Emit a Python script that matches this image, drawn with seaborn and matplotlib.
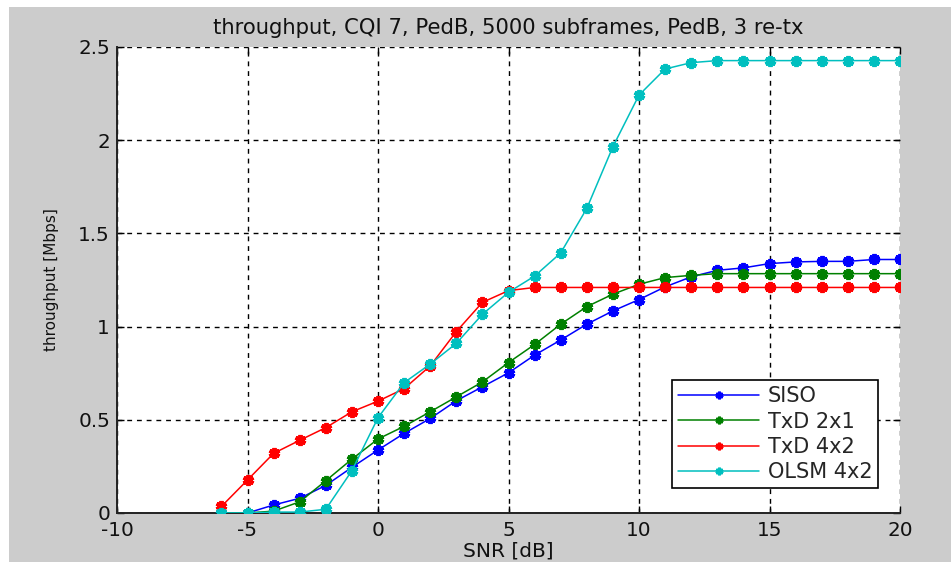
import numpy as np
import pandas as pd
import matplotlib
matplotlib.use("Agg")
import matplotlib.pyplot as plt
import seaborn as sns
from matplotlib.patches import Rectangle

sns.set_theme(style="white")
plt.rcParams["font.family"] = ["DejaVu Sans"]

snr_db = list(range(-6, 21))

siso = [0.0, 0.0, 0.043, 0.079, 0.148, 0.245, 0.338, 0.427, 0.507, 0.602,
        0.677, 0.752, 0.847, 0.928, 1.013, 1.084, 1.145, 1.213, 1.267, 1.302,
        1.315, 1.338, 1.347, 1.35, 1.35, 1.36, 1.36]
txd_2x1 = [0.0, 0.0, 0.01, 0.06, 0.173, 0.289, 0.397, 0.465, 0.543, 0.623,
           0.703, 0.807, 0.904, 1.013, 1.107, 1.174, 1.227, 1.263, 1.275, 1.284,
           1.284, 1.284, 1.284, 1.284, 1.284, 1.284, 1.284]
txd_4x2 = [0.035, 0.177, 0.32, 0.39, 0.458, 0.543, 0.60, 0.667, 0.789, 0.973,
           1.13, 1.193, 1.21, 1.21, 1.21, 1.21, 1.21, 1.21, 1.21, 1.21,
           1.21, 1.21, 1.21, 1.21, 1.21, 1.21, 1.21]
olsm_4x2 = [0.0, 0.0, 0.005, 0.005, 0.02, 0.227, 0.511, 0.699, 0.799, 0.91,
            1.066, 1.184, 1.271, 1.395, 1.634, 1.965, 2.242, 2.382, 2.416, 2.427,
            2.427, 2.427, 2.427, 2.427, 2.427, 2.427, 2.427]

series_names = ["SISO", "TxD 2x1", "TxD 4x2", "OLSM 4x2"]
series_values = [siso, txd_2x1, txd_4x2, olsm_4x2]
series_colors = ["#0000ff", "#008000", "#ff0000", "#00bfbf"]

x_ticks = [-10, -5, 0, 5, 10, 15, 20]
y_ticks = [0, 0.5, 1, 1.5, 2, 2.5]
y_tick_labels = ["0", "0.5", "1", "1.5", "2", "2.5"]

df = pd.DataFrame({
    "SNR": snr_db * len(series_names),
    "throughput": [v for vals in series_values for v in vals],
    "scheme": [n for n in series_names for _ in snr_db],
})

W, H = 951, 562
fig = plt.figure(figsize=(W / 100, H / 100), dpi=100, facecolor="white")
# grey window background with a thin white margin on top and left
fig.patches.append(Rectangle((9 / W, 0), 1, 1 - 7 / H, transform=fig.transFigure,
                             facecolor="#cccccc", edgecolor="none", zorder=-10))

ax = fig.add_axes([117 / W, (H - 513) / H, (900 - 117) / W, (513 - 47) / H])
ax.set_facecolor("white")

asterisk = (6, 2, 0)
for name, color in zip(series_names, series_colors):
    sns.lineplot(data=df[df["scheme"] == name], x="SNR", y="throughput",
                 color=color, label=name, ax=ax, linewidth=1.1,
                 marker=asterisk, markersize=8, markeredgewidth=2.8,
                 markeredgecolor=color, markerfacecolor=color, zorder=3)

ax.set_xlim(-10, 20)
ax.set_ylim(0, 2.5)
ax.set_xticks(x_ticks)
ax.set_yticks(y_ticks)
ax.set_xticklabels([str(t) for t in x_ticks])
ax.set_yticklabels(y_tick_labels)

ax.grid(True, color="black", linestyle=(0, (3.5, 3.5)), linewidth=1.0)
for side in ["left", "bottom"]:
    ax.spines[side].set_color("#222222")
    ax.spines[side].set_linewidth(1.4)
for side in ["top", "right"]:
    ax.spines[side].set_visible(False)

ax.tick_params(axis="both", which="both", direction="in", length=5, width=1,
               colors="black", labelsize=14.4, top=True, right=True,
               bottom=True, left=True)
ax.tick_params(axis="x", pad=6)
ax.tick_params(axis="y", pad=5)
for lbl in ax.get_xticklabels() + ax.get_yticklabels():
    lbl.set_color("#111111")

ax.set_title("throughput, CQI 7, PedB, 5000 subframes, PedB, 3 re-tx",
             fontsize=15.2, color="#111111", pad=9)
ax.set_xlabel("SNR [dB]", fontsize=14.5, color="#111111", labelpad=1)
ax.set_ylabel("throughput [Mbps]", fontsize=11.0, color="#111111", labelpad=14)

leg = ax.legend(loc="lower right", bbox_to_anchor=(0.9725, 0.053), fontsize=15,
                frameon=True, fancybox=False, edgecolor="black", framealpha=1,
                handlelength=3.9, borderpad=0.3, labelspacing=0.25,
                handletextpad=0.4, borderaxespad=0)
leg.get_frame().set_linewidth(1.2)
for h in leg.legend_handles:
    h.set_markersize(5.5)
    h.set_markeredgewidth(2.0)

fig.savefig("out.png", dpi=100, facecolor=fig.get_facecolor())
